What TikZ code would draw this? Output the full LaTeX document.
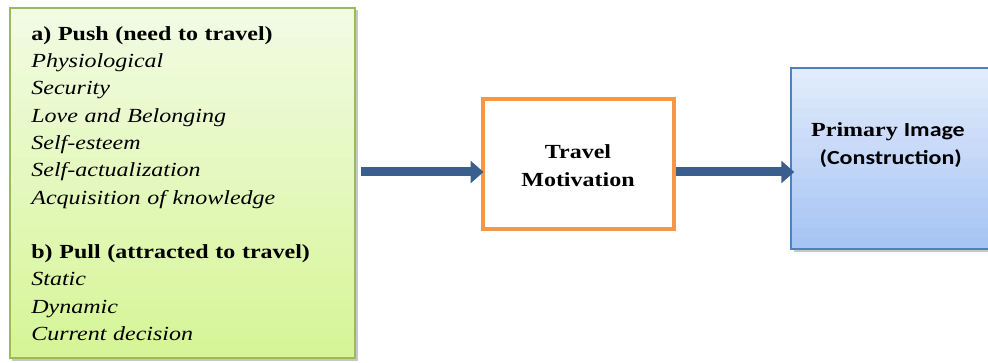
\documentclass[tikz,border=0pt]{standalone}
\usepackage{fontspec}
\setmainfont{Liberation Serif}[FakeStretch=1.2]
\newfontfamily\calib{Carlito}[FakeStretch=1.2]
\usetikzlibrary{arrows.meta}
\definecolor{greenedge}{HTML}{9BBB59}
\definecolor{greentop}{HTML}{F2FBE4}
\definecolor{greenbot}{HTML}{D6F596}
\definecolor{orangeedge}{HTML}{F79646}
\definecolor{blueedge}{HTML}{4F81BD}
\definecolor{bluetop}{HTML}{E2EBFB}
\definecolor{bluebot}{HTML}{A6C4F4}
\definecolor{arrowblue}{HTML}{3A5F8E}
\tikzset{
  listbox/.style={draw=greenedge, line width=1.5pt,
    minimum width=345pt, minimum height=350pt},
  motivbox/.style={draw=orangeedge, line width=4pt, fill=white,
    minimum width=191pt, minimum height=130pt},
  imagebox/.style={draw=blueedge, line width=1.5pt,
    minimum width=200pt, minimum height=181pt},
  boxshadow/.style={fill=black!22, draw=none},
  % text is set at 10pt and enlarged twice over
  bigtext/.style={scale=2, transform shape, inner sep=0pt},
  listtext/.style={bigtext, text width=152pt, align=left,
    font=\fontsize{10}{13.65}\selectfont},
  boldlabel/.style={bigtext, align=center,
    font=\fontsize{10}{14}\selectfont\bfseries},
  flow/.style={draw=arrowblue, line width=9pt,
    -{Triangle[length=13pt,width=22pt]}},
}
\begin{document}
\begin{tikzpicture}[x=1pt,y=-1pt]
\useasboundingbox (0,0) rectangle (988,363);
% soft shadows behind the two tinted boxes
\fill[boxshadow] (12,10) rectangle (358,361);
\fill[boxshadow] (794,71) rectangle (988,252);
% vertical colour ramps, built from thin bands
\foreach \i in {0,...,34} {
  \pgfmathsetmacro\p{100*\i/34}
  \fill[greenbot!\p!greentop] (10,{8+10*\i}) rectangle (355,{8+10*\i+10.6});
}
\foreach \i in {0,...,17} {
  \pgfmathsetmacro\p{100*\i/17}
  \fill[bluebot!\p!bluetop] (791,{68+10*\i}) rectangle (991,{68+10*\i+11.2});
}
% left column: push and pull factors
\node[listbox] (factors) at (182.5,183) {};
\node[listtext, anchor=north west] (pushpull) at (31,26) {%
  \textbf{a) Push (need to travel)}\\
  \textit{Physiological}\\
  \textit{Security}\\
  \textit{Love and Belonging}\\
  \textit{Self-esteem}\\
  \textit{Self-actualization}\\
  \textit{Acquisition of knowledge}\\[13.65pt]
  \textbf{b) Pull (attracted to travel)}\\
  \textit{Static}\\
  \textit{Dynamic}\\
  \textit{Current decision}};
% middle box
\node[motivbox] (motiv) at (578,164) {};
\node[boldlabel] (motivtext) at (578,166) {Travel\\Motivation};
% right box, running off the edge
\node[imagebox] (image) at (891,158.5) {};
\node[boldlabel] (imagetext) at (888,145)
  {Primary {\calib Image}\\ {\calib\ (Construction)}};
% connectors
\coordinate (lane) at (0,172);
\draw[flow] ([xshift=5pt]factors.east |- lane) -- ([xshift=3pt]motiv.west |- lane);
\draw[flow] (motiv.east |- lane) -- ([xshift=4pt]image.west |- lane);
\end{tikzpicture}
\end{document}
